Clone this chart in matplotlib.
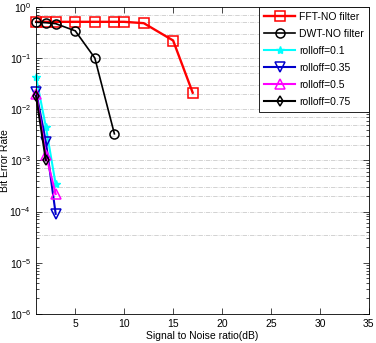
import numpy as np
import matplotlib
matplotlib.use('Agg')
from matplotlib import pyplot as plt

plt.rcParams['font.family'] = ['Liberation Sans', 'DejaVu Sans']
plt.rcParams['mathtext.fontset'] = 'custom'
plt.rcParams['mathtext.rm'] = 'Liberation Sans'
plt.rcParams['mathtext.it'] = 'Liberation Sans'
plt.rcParams['font.size'] = 7.5

# data
fft_snr = [1, 2, 3, 5, 7, 9, 10, 12, 15, 17]
fft_ber = [0.51, 0.51, 0.51, 0.51, 0.51, 0.51, 0.51, 0.48, 0.22, 0.021]

dwt_snr = [1, 2, 3, 5, 7, 9]
dwt_ber = [0.5, 0.49, 0.47, 0.34, 0.1, 0.0033]

r01_snr = [1, 2, 3]
r01_ber = [0.042, 0.0045, 0.00034]

r035_snr = [1, 2, 3]
r035_ber = [0.022, 0.0023, 0.00009]

r05_snr = [1, 2, 3]
r05_ber = [0.02, 0.0013, 0.00022]

r075_snr = [1, 2]
r075_ber = [0.018, 0.001]

fig = plt.figure(figsize=(3.76, 3.43), dpi=100)
ax = fig.add_axes([0.096, 0.085, 0.885, 0.895])

# sparse dashed grid lines like in the source
for e in range(-4, 0):
    for k in (2, 3, 5, 7):
        ax.axhline(k * 10.0**e, color='#c0c0c0', linestyle='-.', linewidth=0.5, zorder=0)
for e in range(-4, 0):
    ax.axhline(10.0**e, color='#c0c0c0', linestyle='-.', linewidth=0.5, zorder=0)
ax.axhline(3.5e-5, color='#c0c0c0', linestyle='-.', linewidth=0.5, zorder=0)

kw = dict(markerfacecolor='none', clip_on=False, markersize=6.5)
ax.semilogy(fft_snr, fft_ber, color='#ff0000', marker='s', linewidth=1.7,
            markeredgewidth=1.1, label='FFT-NO filter', **kw)
ax.semilogy(dwt_snr, dwt_ber, color='black', marker='o', linewidth=1.2,
            markeredgewidth=1.1, label='DWT-NO filter', **kw)
ax.semilogy(r01_snr, r01_ber, color='#00ffff', marker='*', linewidth=1.5,
            markeredgewidth=1.0, label='rolloff=0.1', clip_on=False, markersize=6)
ax.semilogy(r035_snr, r035_ber, color='#0000cc', marker='v', linewidth=1.5,
            markeredgewidth=1.1, label='rolloff=0.35', **kw)
ax.semilogy(r05_snr, r05_ber, color='#ff00ff', marker='^', linewidth=1.5,
            markeredgewidth=1.1, label='rolloff=0.5', **kw)
ax.semilogy(r075_snr, r075_ber, color='black', marker='d', linewidth=1.5,
            markeredgewidth=1.1, label='rolloff=0.75', markerfacecolor='none',
            clip_on=False, markersize=5)

ax.set_xlim(1, 35)
ax.set_ylim(1e-6, 1)
ax.set_xticks([5, 10, 15, 20, 25, 30, 35])
ax.tick_params(which='both', direction='in', top=True, right=True, width=0.5)
ax.tick_params(which='major', length=4)
ax.tick_params(which='minor', length=2)
for s in ax.spines.values():
    s.set_linewidth(0.6)

ax.set_xlabel('Signal to Noise ratio(dB)', labelpad=2)
ax.set_ylabel('Bit Error Rate')
ax.yaxis.set_label_coords(-0.079, 0.5)

leg = ax.legend(loc='upper right', borderaxespad=0, fancybox=False,
                framealpha=1, edgecolor='black', handlelength=3.0,
                labelspacing=0.68, borderpad=0.45, handletextpad=0.4)
leg.get_frame().set_linewidth(0.6)

fig.savefig('out.png', dpi=100)
